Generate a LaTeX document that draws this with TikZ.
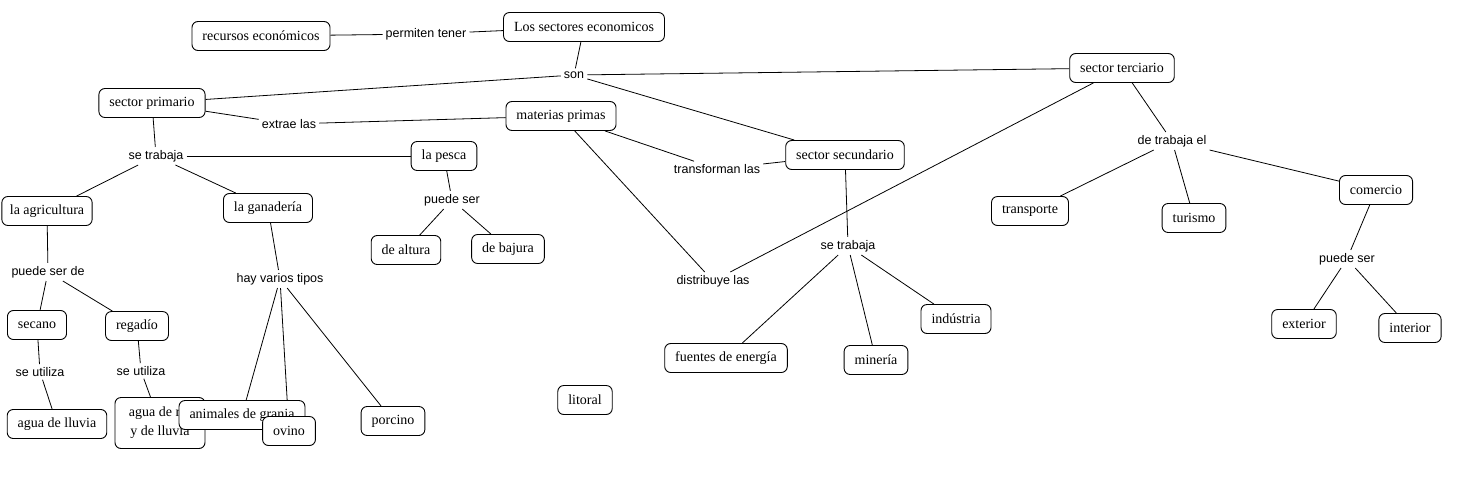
\documentclass[tikz,border=0pt]{standalone}
\usepackage{fontspec}
\setmainfont{Liberation Serif}
\setsansfont{Liberation Sans}
\usetikzlibrary{backgrounds}

\begin{document}
\begin{tikzpicture}[
    x=1pt, y=-1pt,
    concept/.style={rectangle, rounded corners=6pt, draw, fill=white, line width=0.9pt, inner xsep=10.5pt, minimum height=29pt, font=\fontsize{14}{19}\selectfont},
    link/.style={inner sep=3pt, font=\sffamily\fontsize{12.5}{14}\selectfont},
    edge/.style={line width=0.8pt}
]
\useasboundingbox (0,0) rectangle (1479,490);

% Concepts at the top
\node[concept] (rec) at (261,36) {recursos económicos};
\node[link] (perm) at (426,34) {permiten tener};
\node[concept] (sect) at (584,27) {Los sectores economicos};
\node[link] (son) at (574,75) {son};

% Sector primario
\node[concept] (prim) at (152,103) {sector primario};
\node[link] (extrae) at (289,124) {extrae las};
\node[concept] (mat) at (561,116) {materias primas};
\node[link] (trabP) at (156,156) {se trabaja};
\node[concept] (pesca) at (444,156) {la pesca};
\node[link] (puedeP) at (452,200) {puede ser};
\node[concept] (altura) at (406,250) {de altura};
\node[concept] (bajura) at (508,249) {de bajura};
\node[concept, inner xsep=8pt] (agri) at (47,211) {la agricultura};
\node[link] (puedeA) at (48,272) {puede ser de};
\node[concept] (secano) at (37,325) {secano};
\node[concept] (regadio) at (137,326) {regadío};
\node[link] (utilS) at (40,372) {se utiliza};
\node[link] (utilR) at (141,371) {se utiliza};
\node[concept] (lluvia) at (57,424) {agua de lluvia};
\node[concept, align=center, minimum width=90pt, minimum height=51pt] (rio) at (160,423) {agua de río\\y de lluvia};
\node[concept] (gana) at (268,208) {la ganadería};
\node[link] (tipos) at (280,279) {hay varios tipos};
\node[concept] (granja) at (242,415) {animales de granja};
\node[concept] (ovino) at (289,431) {ovino};
\node[concept] (porcino) at (393,421) {porcino};
\node[concept] (litoral) at (585,400) {litoral};

% Sector secundario
\node[link] (transf) at (717,169) {transforman las};
\node[concept] (secu) at (845,155) {sector secundario};
\node[link] (distr) at (713,281) {distribuye las};
\node[link] (trabS) at (848,246) {se trabaja};
\node[concept] (fuentes) at (726,358) {fuentes de energía};
\node[concept] (mineria) at (876,360) {minería};
\node[concept] (industria) at (956,319) {indústria};

% Sector terciario
\node[concept] (terc) at (1122,68) {sector terciario};
\node[link] (detrab) at (1172,141) {de trabaja el};
\node[concept] (transp) at (1030,211) {transporte};
\node[concept] (turismo) at (1194,218) {turismo};
\node[concept] (comercio) at (1376,190) {comercio};
\node[link] (puedeC) at (1347,259) {puede ser};
\node[concept] (exterior) at (1304,324) {exterior};
\node[concept] (interior) at (1410,328) {interior};

% Connectors
\begin{scope}[on background layer]
\foreach \a/\b in {rec/perm, perm/sect, sect/son, son/prim, son/terc, son/secu,
    prim/extrae, extrae/mat, prim/trabP, trabP/pesca, trabP/agri, trabP/gana,
    pesca/puedeP, puedeP/altura, puedeP/bajura,
    agri/puedeA, puedeA/secano, puedeA/regadio,
    secano/utilS, utilS/lluvia, regadio/utilR, utilR/rio,
    gana/tipos, tipos/granja, tipos/ovino, tipos/porcino,
    mat/transf, transf/secu, mat/distr, distr/terc,
    secu/trabS, trabS/fuentes, trabS/mineria, trabS/industria,
    terc/detrab, detrab/transp, detrab/turismo, detrab/comercio,
    comercio/puedeC, puedeC/exterior, puedeC/interior} {
    \draw[edge] (\a) -- (\b);
}
\end{scope}

\end{tikzpicture}
\end{document}
